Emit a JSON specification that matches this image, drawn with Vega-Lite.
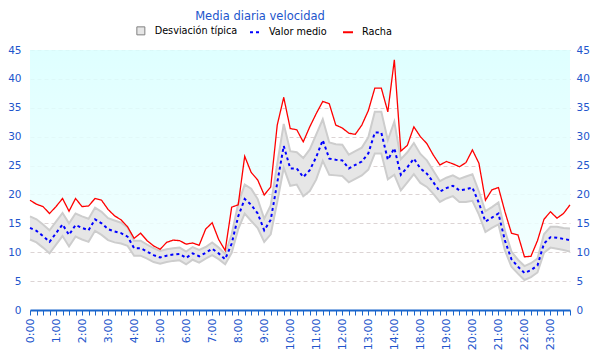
{
  "$schema": "https://vega.github.io/schema/vega-lite/v6.json",
  "autosize": "none",
  "width": 540,
  "height": 260,
  "padding": {"left": 30, "top": 50, "right": 30, "bottom": 50},
  "background": "white",
  "title": {"text": "Media diaria velocidad", "font": "DejaVu Sans", "fontSize": 11.5, "fontWeight": "normal", "color": "#2255cc", "frame": "group", "anchor": "middle", "offset": 4, "dx": -40},
  "config": {"view": {"stroke": null}, "font": "DejaVu Sans"},
  "data": {"values": [
    {"t": "0:00", "media": 14.2, "inf": 12.2, "sup": 16.2, "racha": 19.0},
    {"t": "0:15", "media": 13.7, "inf": 11.7, "sup": 15.7, "racha": 18.3},
    {"t": "0:30", "media": 12.8, "inf": 10.8, "sup": 14.8, "racha": 17.9},
    {"t": "0:45", "media": 11.8, "inf": 9.8, "sup": 13.8, "racha": 16.7},
    {"t": "1:00", "media": 13.3, "inf": 11.3, "sup": 15.3, "racha": 17.9},
    {"t": "1:15", "media": 14.8, "inf": 12.8, "sup": 16.8, "racha": 19.3},
    {"t": "1:30", "media": 13.0, "inf": 11.0, "sup": 15.0, "racha": 17.1},
    {"t": "1:45", "media": 14.7, "inf": 12.7, "sup": 16.7, "racha": 19.3},
    {"t": "2:00", "media": 14.2, "inf": 12.2, "sup": 16.2, "racha": 17.9},
    {"t": "2:15", "media": 13.8, "inf": 11.8, "sup": 15.8, "racha": 18.0},
    {"t": "2:30", "media": 15.7, "inf": 13.7, "sup": 17.7, "racha": 19.3},
    {"t": "2:45", "media": 15.0, "inf": 13.0, "sup": 17.0, "racha": 19.0},
    {"t": "3:00", "media": 14.0, "inf": 12.1, "sup": 15.9, "racha": 17.4},
    {"t": "3:15", "media": 13.6, "inf": 11.7, "sup": 15.5, "racha": 16.3},
    {"t": "3:30", "media": 13.3, "inf": 11.5, "sup": 15.1, "racha": 15.6},
    {"t": "3:45", "media": 12.7, "inf": 11.1, "sup": 14.3, "racha": 14.4},
    {"t": "4:00", "media": 10.7, "inf": 9.4, "sup": 12.0, "racha": 12.4},
    {"t": "4:15", "media": 10.7, "inf": 9.4, "sup": 12.0, "racha": 13.3},
    {"t": "4:30", "media": 10.1, "inf": 8.9, "sup": 11.3, "racha": 12.0},
    {"t": "4:45", "media": 9.5, "inf": 8.3, "sup": 10.7, "racha": 11.1},
    {"t": "5:00", "media": 9.1, "inf": 8.0, "sup": 10.2, "racha": 10.5},
    {"t": "5:15", "media": 9.4, "inf": 8.3, "sup": 10.5, "racha": 11.7},
    {"t": "5:30", "media": 9.6, "inf": 8.5, "sup": 10.7, "racha": 12.1},
    {"t": "5:45", "media": 9.7, "inf": 8.6, "sup": 10.8, "racha": 12.0},
    {"t": "6:00", "media": 9.0, "inf": 7.9, "sup": 10.1, "racha": 11.4},
    {"t": "6:15", "media": 9.8, "inf": 8.7, "sup": 10.9, "racha": 11.6},
    {"t": "6:30", "media": 9.3, "inf": 8.2, "sup": 10.4, "racha": 11.2},
    {"t": "6:45", "media": 9.9, "inf": 8.9, "sup": 10.9, "racha": 14.0},
    {"t": "7:00", "media": 10.6, "inf": 9.5, "sup": 11.7, "racha": 15.1},
    {"t": "7:15", "media": 9.8, "inf": 8.8, "sup": 10.8, "racha": 12.2},
    {"t": "7:30", "media": 8.8, "inf": 7.9, "sup": 9.7, "racha": 10.3},
    {"t": "7:45", "media": 11.5, "inf": 9.9, "sup": 13.1, "racha": 17.8},
    {"t": "8:00", "media": 16.2, "inf": 14.0, "sup": 18.4, "racha": 18.2},
    {"t": "8:15", "media": 19.2, "inf": 16.7, "sup": 21.7, "racha": 26.6},
    {"t": "8:30", "media": 18.2, "inf": 15.4, "sup": 21.0, "racha": 23.8},
    {"t": "8:45", "media": 16.7, "inf": 14.2, "sup": 19.2, "racha": 22.5},
    {"t": "9:00", "media": 13.8, "inf": 11.8, "sup": 15.8, "racha": 19.9},
    {"t": "9:15", "media": 15.6, "inf": 13.1, "sup": 18.1, "racha": 21.3},
    {"t": "9:30", "media": 22.0, "inf": 18.7, "sup": 25.3, "racha": 32.0},
    {"t": "9:45", "media": 28.4, "inf": 24.6, "sup": 32.2, "racha": 36.8},
    {"t": "10:00", "media": 24.5, "inf": 21.5, "sup": 27.5, "racha": 31.4},
    {"t": "10:15", "media": 24.5, "inf": 21.7, "sup": 27.3, "racha": 31.2},
    {"t": "10:30", "media": 23.0, "inf": 19.7, "sup": 26.3, "racha": 29.1},
    {"t": "10:45", "media": 24.2, "inf": 20.6, "sup": 27.8, "racha": 31.7},
    {"t": "11:00", "media": 26.5, "inf": 22.6, "sup": 30.4, "racha": 34.0},
    {"t": "11:15", "media": 29.4, "inf": 25.8, "sup": 33.0, "racha": 36.1},
    {"t": "11:30", "media": 26.2, "inf": 23.4, "sup": 29.0, "racha": 35.7},
    {"t": "11:45", "media": 26.0, "inf": 23.3, "sup": 28.7, "racha": 32.0},
    {"t": "12:00", "media": 25.9, "inf": 23.2, "sup": 28.6, "racha": 31.5},
    {"t": "12:15", "media": 24.5, "inf": 22.1, "sup": 26.9, "racha": 30.6},
    {"t": "12:30", "media": 25.1, "inf": 22.7, "sup": 27.5, "racha": 30.4},
    {"t": "12:45", "media": 25.7, "inf": 23.3, "sup": 28.1, "racha": 32.0},
    {"t": "13:00", "media": 27.1, "inf": 24.3, "sup": 29.9, "racha": 34.5},
    {"t": "13:15", "media": 30.7, "inf": 27.1, "sup": 34.3, "racha": 38.4},
    {"t": "13:30", "media": 30.7, "inf": 27.1, "sup": 34.3, "racha": 38.4},
    {"t": "13:45", "media": 26.0, "inf": 22.6, "sup": 29.4, "racha": 34.3},
    {"t": "14:00", "media": 28.0, "inf": 23.4, "sup": 32.6, "racha": 43.3},
    {"t": "14:15", "media": 23.4, "inf": 20.7, "sup": 26.1, "racha": 27.5},
    {"t": "14:30", "media": 24.7, "inf": 22.1, "sup": 27.3, "racha": 28.5},
    {"t": "14:45", "media": 26.2, "inf": 23.5, "sup": 28.9, "racha": 31.7},
    {"t": "18:00", "media": 24.5, "inf": 22.0, "sup": 27.0, "racha": 30.0},
    {"t": "18:15", "media": 23.6, "inf": 21.3, "sup": 25.9, "racha": 28.8},
    {"t": "18:30", "media": 22.1, "inf": 20.1, "sup": 24.1, "racha": 26.8},
    {"t": "18:45", "media": 20.5, "inf": 18.7, "sup": 22.3, "racha": 25.1},
    {"t": "19:00", "media": 21.1, "inf": 19.3, "sup": 22.9, "racha": 25.7},
    {"t": "19:15", "media": 21.5, "inf": 19.7, "sup": 23.3, "racha": 25.3},
    {"t": "19:30", "media": 20.7, "inf": 18.7, "sup": 22.7, "racha": 24.8},
    {"t": "19:45", "media": 20.9, "inf": 18.7, "sup": 23.1, "racha": 25.5},
    {"t": "20:00", "media": 21.2, "inf": 18.9, "sup": 23.5, "racha": 27.7},
    {"t": "20:15", "media": 18.5, "inf": 16.5, "sup": 20.5, "racha": 25.4},
    {"t": "20:30", "media": 15.3, "inf": 13.5, "sup": 17.1, "racha": 19.0},
    {"t": "20:45", "media": 16.0, "inf": 14.2, "sup": 17.8, "racha": 20.8},
    {"t": "21:00", "media": 16.7, "inf": 14.8, "sup": 18.6, "racha": 21.2},
    {"t": "21:15", "media": 12.0, "inf": 10.3, "sup": 13.7, "racha": 17.0},
    {"t": "21:30", "media": 8.8, "inf": 7.5, "sup": 10.1, "racha": 13.3},
    {"t": "21:45", "media": 7.5, "inf": 6.3, "sup": 8.7, "racha": 13.0},
    {"t": "22:00", "media": 6.4, "inf": 5.2, "sup": 7.6, "racha": 9.2},
    {"t": "22:15", "media": 6.9, "inf": 5.7, "sup": 8.1, "racha": 9.3},
    {"t": "22:30", "media": 7.7, "inf": 6.5, "sup": 8.9, "racha": 12.0},
    {"t": "22:45", "media": 11.5, "inf": 9.9, "sup": 13.1, "racha": 15.7},
    {"t": "23:00", "media": 12.6, "inf": 10.8, "sup": 14.4, "racha": 17.0},
    {"t": "23:15", "media": 12.5, "inf": 10.6, "sup": 14.4, "racha": 15.9},
    {"t": "23:30", "media": 12.3, "inf": 10.4, "sup": 14.2, "racha": 16.7},
    {"t": "23:45", "media": 12.1, "inf": 10.1, "sup": 14.1, "racha": 18.2}
  ]},
  "encoding": {
    "x": {"field": "t", "type": "ordinal", "sort": null,
      "scale": {"type": "point", "padding": 0},
      "axis": {"title": null, "orient": "bottom", "grid": false, "labelAngle": -90, "labelOverlap": false,
        "labelExpr": "indexof(datum.value, ':00') > 0 ? datum.value : ''",
        "labelColor": "#2255cc", "labelFontSize": 11, "labelFont": "DejaVu Sans", "labelPadding": 3,
        "domainColor": "#1a66cc", "domainWidth": 2, "tickColor": "#1a66cc", "tickSize": 5, "tickWidth": 1}}
  },
  "resolve": {"axis": {"y": "independent"}},
  "layer": [
    {
      "mark": {"type": "area", "color": {"gradient": "linear", "x1": 0, "y1": 0, "x2": 0, "y2": 1,
        "stops": [{"offset": 0, "color": "#d9ffff"}, {"offset": 1, "color": "#f0ffff"}]}, "opacity": 0.85},
      "encoding": {
        "y": {"field": "racha", "type": "quantitative", "scale": {"domain": [0, 45], "nice": false},
          "axis": {"orient": "left", "title": null, "values": [0,5,10,15,20,25,30,35,40,45], "grid": true,
            "gridColor": "#dcd4d4", "gridDash": [4, 3], "gridWidth": 1, "domain": false, "ticks": false,
            "labelColor": "#2255cc", "labelFontSize": 10.5, "labelFont": "DejaVu Sans", "labelPadding": 9}},
        "y2": {"datum": 45}
      }
    },
    {
      "mark": {"type": "area", "color": "#ebebeb"},
      "encoding": {
        "y": {"field": "sup", "type": "quantitative", "scale": {"domain": [0, 45], "nice": false}, "axis": null},
        "y2": {"field": "inf"},
        "fill": {"datum": "Desviación típica", "type": "nominal",
          "scale": {"domain": ["Desviación típica"], "range": ["#e6e6e6"]},
          "legend": {"orient": "none", "legendX": 106, "legendY": -24, "direction": "horizontal", "title": null,
            "labelFont": "DejaVu Sans", "labelFontSize": 9.7, "labelColor": "#000000", "labelOffset": 9,
            "symbolType": "square", "symbolSize": 64, "symbolStrokeColor": "#808080", "symbolStrokeWidth": 1,
            "symbolFillColor": "#e6e6e6", "symbolOpacity": 1}
        }
      }
    },
    {
      "mark": {"type": "line", "color": "#cdcdcd", "strokeWidth": 2},
      "encoding": {"y": {"field": "sup", "type": "quantitative", "scale": {"domain": [0, 45], "nice": false}, "axis": null}}
    },
    {
      "mark": {"type": "line", "color": "#cdcdcd", "strokeWidth": 2},
      "encoding": {"y": {"field": "inf", "type": "quantitative", "scale": {"domain": [0, 45], "nice": false}, "axis": null}}
    },
    {
      "mark": {"type": "line", "strokeWidth": 2},
      "encoding": {
        "y": {"field": "media", "type": "quantitative", "scale": {"domain": [0, 45], "nice": false},
          "axis": {"orient": "right", "title": null, "values": [0,5,10,15,20,25,30,35,40,45], "grid": false,
            "domain": false, "ticks": false, "labelColor": "#2255cc", "labelFontSize": 10.5, "labelFont": "DejaVu Sans", "labelPadding": 6}},
        "stroke": {"datum": "Valor medio", "type": "nominal",
          "scale": {"domain": ["Valor medio", "Racha"], "range": ["#0000ff", "#ff0000"]},
          "legend": {"orient": "none", "legendX": 219, "legendY": -24, "direction": "horizontal", "title": null,
            "labelFont": "DejaVu Sans", "labelFontSize": 9.7, "labelColor": "#000000", "labelOffset": 8,
            "columnPadding": 12, "symbolType": "stroke", "symbolSize": 100, "symbolStrokeWidth": 2}},
        "strokeDash": {"datum": "Valor medio", "type": "nominal",
          "scale": {"domain": ["Valor medio", "Racha"], "range": [[3, 3], [1, 0]]},
          "legend": {"orient": "none", "legendX": 219, "legendY": -24, "direction": "horizontal", "title": null,
            "labelFont": "DejaVu Sans", "labelFontSize": 9.7, "labelColor": "#000000", "labelOffset": 8,
            "columnPadding": 12, "symbolType": "stroke", "symbolSize": 100, "symbolStrokeWidth": 2}}
      }
    },
    {
      "mark": {"type": "line", "strokeWidth": 1.3},
      "encoding": {
        "y": {"field": "racha", "type": "quantitative", "scale": {"domain": [0, 45], "nice": false}, "axis": null},
        "stroke": {"datum": "Racha", "type": "nominal"},
        "strokeDash": {"datum": "Racha", "type": "nominal"}
      }
    }
  ]
}
